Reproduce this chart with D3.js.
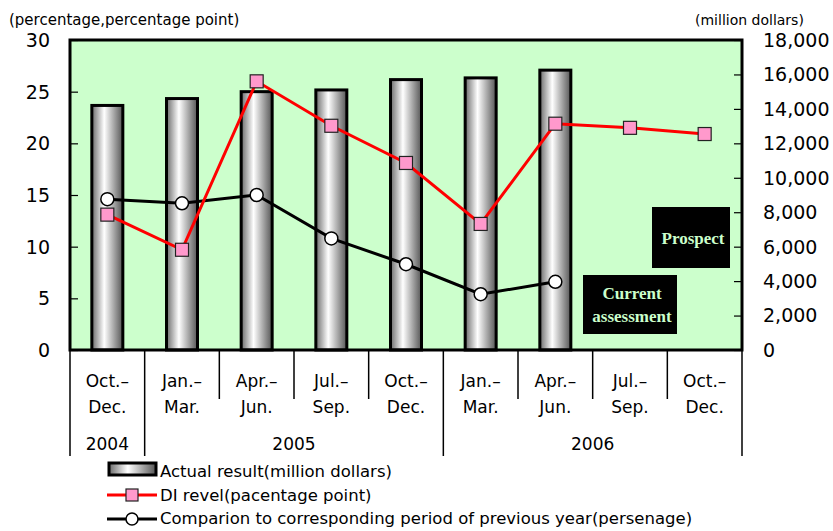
<!DOCTYPE html>
<html>
<head>
<meta charset="utf-8">
<script src="https://d3js.org/d3.v7.min.js"></script>
<style>
body { margin: 0; background: #fff; }
text { font-family: "DejaVu Sans", sans-serif; }
</style>
</head>
<body>
<svg width="833" height="531"></svg>
<script>
var quarters = ["Oct.–|Dec.", "Jan.–|Mar.", "Apr.–|Jun.", "Jul.–|Sep.", "Oct.–|Dec.", "Jan.–|Mar.", "Apr.–|Jun.", "Jul.–|Sep.", "Oct.–|Dec."];
var years = [["2004", 0, 1], ["2005", 1, 5], ["2006", 5, 9]];
var actual = [14200, 14600, 15000, 15100, 15700, 15800, 16250, null, null];
var diLevel = [13.1, 9.7, 26.0, 21.7, 18.1, 12.2, 21.9, 21.5, 20.9];
var comparison = [14.6, 14.2, 15.0, 10.8, 8.3, 5.4, 6.6, null, null];
var leftTicks = [0, 5, 10, 15, 20, 25, 30];
var rightTicks = [0, 2000, 4000, 6000, 8000, 10000, 12000, 14000, 16000, 18000];

var svg = d3.select("svg");
var pLeft = 70, pRight = 742, pTop = 40, pBottom = 350;

var x = d3.scaleBand().domain(d3.range(quarters.length)).range([pLeft, pRight]);
var yL = d3.scaleLinear().domain([0, 30]).range([pBottom, pTop]);
var yR = d3.scaleLinear().domain([0, 18000]).range([pBottom, pTop]);

// bar gradient
var grad = svg.append("defs").append("linearGradient")
 .attr("id", "barGrad").attr("x1", "0%").attr("x2", "100%");
grad.append("stop").attr("offset", "0%").attr("stop-color", "#6a6a6a");
grad.append("stop").attr("offset", "40%").attr("stop-color", "#ffffff");
grad.append("stop").attr("offset", "100%").attr("stop-color", "#555555");

// plot background
svg.append("rect")
 .attr("x", pLeft).attr("y", pTop)
 .attr("width", pRight - pLeft).attr("height", pBottom - pTop)
 .attr("fill", "#ccffcc");

// inward ticks
svg.append("g")
 .attr("transform", "translate(" + pLeft + ",0)")
 .call(d3.axisRight(yL).tickValues(leftTicks).tickSize(8).tickFormat(""))
 .call(function(g) { g.select(".domain").remove(); })
 .selectAll("line").attr("stroke", "#000").attr("stroke-width", 1.2);
svg.append("g")
 .attr("transform", "translate(" + pRight + ",0)")
 .call(d3.axisLeft(yR).tickValues(rightTicks).tickSize(8).tickFormat(""))
 .call(function(g) { g.select(".domain").remove(); })
 .selectAll("line").attr("stroke", "#000").attr("stroke-width", 1.2);

// tick labels
svg.append("g").selectAll("text")
 .data(leftTicks).enter().append("text")
 .attr("x", 50).attr("y", function(d) { return yL(d); })
 .attr("dy", "0.36em")
 .attr("text-anchor", "end")
 .attr("font-size", "19px")
 .text(function(d) { return d; });
svg.append("g").selectAll("text")
 .data(rightTicks).enter().append("text")
 .attr("x", 763).attr("y", function(d) { return yR(d); })
 .attr("dy", "0.36em")
 .attr("font-size", "19px")
 .text(function(d) { return d3.format(",")(d); });

svg.append("text")
 .attr("x", 9).attr("y", 25)
 .attr("font-size", "15px")
 .text("(percentage,percentage point)");
svg.append("text")
 .attr("x", 695).attr("y", 25)
 .attr("font-size", "14px")
 .text("(million dollars)");

// bars
var barW = 31;
svg.append("g").selectAll("rect")
 .data(actual.map(function(v, i) { return {i: i, v: v}; }).filter(function(d) { return d.v != null; }))
 .enter().append("rect")
 .attr("x", function(d) { return x(d.i) + x.bandwidth() / 2 - barW / 2; })
 .attr("y", function(d) { return yR(d.v); })
 .attr("width", barW)
 .attr("height", function(d) { return pBottom - yR(d.v); })
 .attr("fill", "url(#barGrad)")
 .attr("stroke", "#000")
 .attr("stroke-width", 3);

// plot border
svg.append("rect")
 .attr("x", pLeft).attr("y", pTop)
 .attr("width", pRight - pLeft).attr("height", pBottom - pTop)
 .attr("fill", "none").attr("stroke", "#000").attr("stroke-width", 3);

// lines
var cx = function(i) { return x(i) + x.bandwidth() / 2; };
var diPts = diLevel.map(function(v, i) { return [cx(i), yL(v)]; });
var cmpPts = comparison.map(function(v, i) { return v == null ? null : [cx(i), yL(v)]; }).filter(function(p) { return p; });

svg.append("path")
 .attr("d", d3.line()(cmpPts))
 .attr("fill", "none").attr("stroke", "#000").attr("stroke-width", 3);
svg.append("g").selectAll("circle")
 .data(cmpPts).enter().append("circle")
 .attr("cx", function(d) { return d[0]; })
 .attr("cy", function(d) { return d[1]; })
 .attr("r", 6.5)
 .attr("fill", "#fff").attr("stroke", "#000").attr("stroke-width", 1.5);

svg.append("path")
 .attr("d", d3.line()(diPts))
 .attr("fill", "none").attr("stroke", "#ff0000").attr("stroke-width", 3);
svg.append("g").selectAll("rect")
 .data(diPts).enter().append("rect")
 .attr("x", function(d) { return d[0] - 6.5; })
 .attr("y", function(d) { return d[1] - 6.5; })
 .attr("width", 13).attr("height", 13)
 .attr("fill", "#ff99cc").attr("stroke", "#222").attr("stroke-width", 1.2);

// note boxes
function noteBox(x0, y0, w, h, lines) {
  svg.append("rect")
   .attr("x", x0).attr("y", y0).attr("width", w).attr("height", h)
   .attr("fill", "#000");
  var t = svg.append("text")
   .attr("text-anchor", "middle")
   .attr("fill", "#ccffcc")
   .attr("font-size", "17px")
   .attr("font-weight", "bold")
   .style("font-family", "'Liberation Serif', serif");
  lines.forEach(function(s, k) {
    t.append("tspan")
     .attr("x", x0 + w / 2 + 2)
     .attr("y", y0 + h / 2 + 6 + (k - (lines.length - 1) / 2) * 23)
     .text(s);
  });
}
noteBox(652, 207, 78, 61, ["Prospect"]);
noteBox(583, 275, 94, 59, ["Current", "assessment"]);

// category dividers and labels
var edges = d3.range(quarters.length + 1).map(function(i) { return i < quarters.length ? x(i) : pRight; });
var yearEdges = [0, 1, 5, 9];
svg.append("g").selectAll("line")
 .data(d3.range(edges.length)).enter().append("line")
 .attr("x1", function(i) { return edges[i]; })
 .attr("x2", function(i) { return edges[i]; })
 .attr("y1", pBottom)
 .attr("y2", function(i) { return yearEdges.indexOf(i) >= 0 ? 456 : 399; })
 .attr("stroke", "#000").attr("stroke-width", 1.5);

svg.append("g").selectAll("text")
 .data(quarters).enter().append("text")
 .attr("text-anchor", "middle")
 .attr("font-size", "17px")
 .each(function(d, i) {
   var parts = d.split("|");
   d3.select(this).append("tspan").attr("x", cx(i)).attr("y", 387).text(parts[0]);
   d3.select(this).append("tspan").attr("x", cx(i)).attr("y", 413).text(parts[1]);
 });

svg.append("g").selectAll("text")
 .data(years).enter().append("text")
 .attr("x", function(d) { return (edges[d[1]] + edges[d[2]]) / 2; })
 .attr("y", 450)
 .attr("text-anchor", "middle")
 .attr("font-size", "17px")
 .text(function(d) { return d[0]; });

// legend
var lg = svg.append("g");
lg.append("rect")
 .attr("x", 109).attr("y", 463).attr("width", 47).attr("height", 12)
 .attr("fill", "url(#barGrad)").attr("stroke", "#000").attr("stroke-width", 3);
lg.append("text").attr("x", 160).attr("y", 477).attr("font-size", "16.5px")
 .text("Actual result(million dollars)");

lg.append("line").attr("x1", 107).attr("x2", 157).attr("y1", 495).attr("y2", 495)
 .attr("stroke", "#ff0000").attr("stroke-width", 3);
lg.append("rect").attr("x", 126).attr("y", 489).attr("width", 12).attr("height", 12)
 .attr("fill", "#ff99cc").attr("stroke", "#222").attr("stroke-width", 1.2);
lg.append("text").attr("x", 160).attr("y", 501).attr("font-size", "16.5px")
 .text("DI revel(pacentage point)");

lg.append("line").attr("x1", 107).attr("x2", 157).attr("y1", 519).attr("y2", 519)
 .attr("stroke", "#000").attr("stroke-width", 3);
lg.append("circle").attr("cx", 132).attr("cy", 519).attr("r", 6)
 .attr("fill", "#fff").attr("stroke", "#000").attr("stroke-width", 1.5);
lg.append("text").attr("x", 160).attr("y", 524).attr("font-size", "16.5px")
 .text("Comparion to corresponding period of previous year(persenage)");
</script>
</body>
</html>
